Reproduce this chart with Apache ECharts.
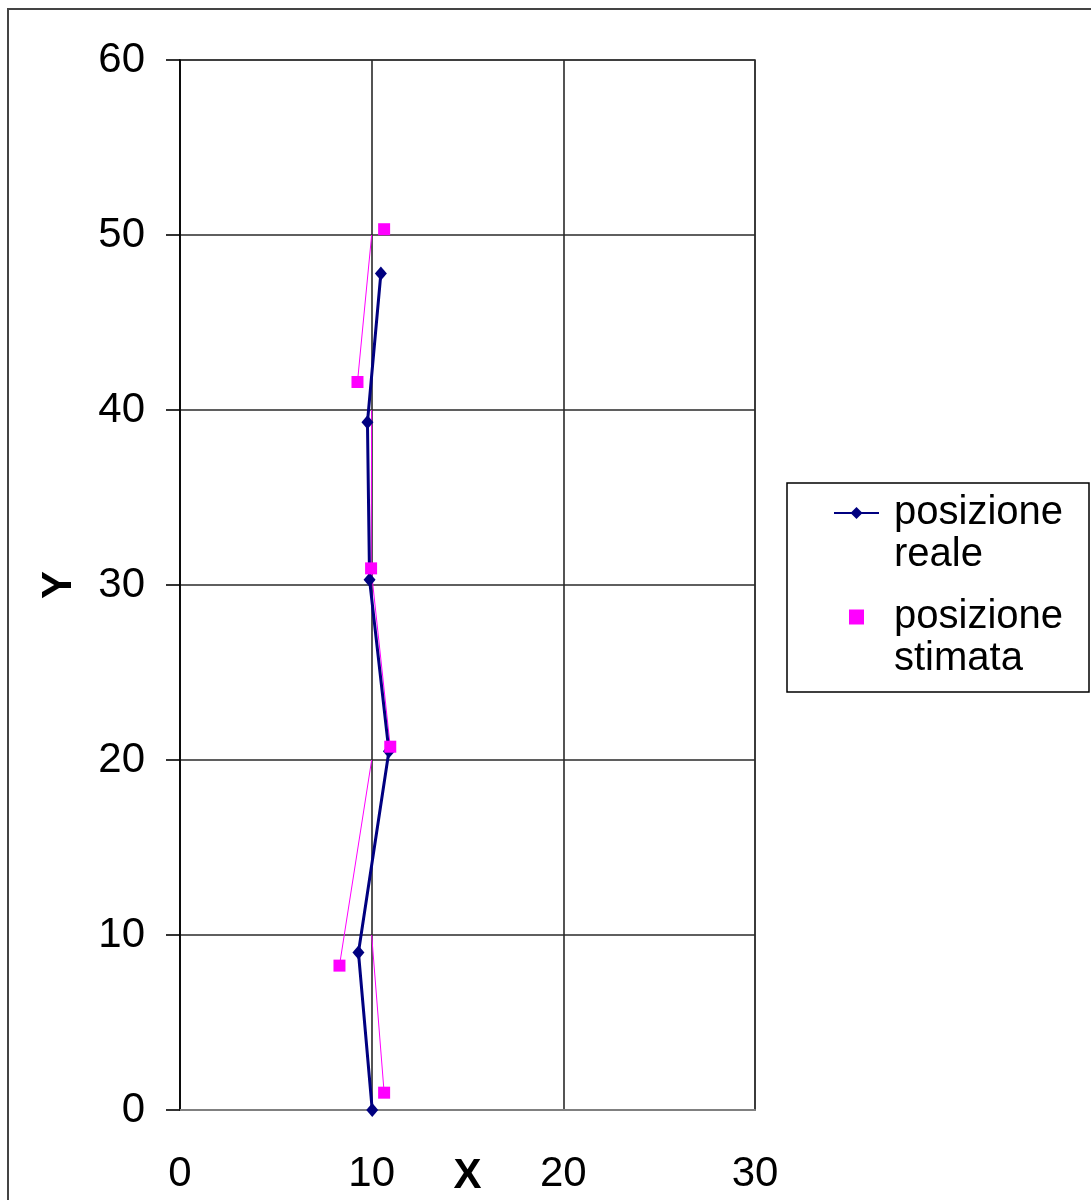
<!DOCTYPE html>
<html>
<head>
<meta charset="utf-8">
<script src="https://cdn.jsdelivr.net/npm/echarts@6/dist/echarts.min.js"></script>
<style>
html,body{margin:0;padding:0;background:#fff;}
#chart{width:1091px;height:1200px;}
</style>
</head>
<body>
<div id="chart"></div>
<script>
// ---- data ----
const realName = 'posizione\nreale';
const estName = 'posizione\nstimata';
const realX = [10.03, 9.31, 10.9, 9.89, 9.78, 10.48];
const realY = [0, 9.0, 20.5, 30.3, 39.3, 47.8];
const estX = [10.65, 8.32, 10.97, 9.97, 9.26, 10.65];
const estY = [0.99, 8.25, 20.76, 30.95, 41.6, 50.33];
// thin magenta connector segments (not in legend)
const linkSegments = [
  [[10.65, 0.99], [10, 10]],
  [[8.32, 8.25], [10, 20]],
  [[10.97, 20.76], [9.97, 30.95], [10, 40]],
  [[9.26, 41.6], [10, 50]]
];
const xTicks = {min: 0, max: 30, interval: 10};
const yTicks = {min: 0, max: 60, interval: 10};

const FONT = 'Liberation Sans, Arial, sans-serif';
const chart = echarts.init(document.getElementById('chart'), null, {renderer: 'canvas'});

const series = [];
linkSegments.forEach(function (seg, i) {
  series.push({
    type: 'line', name: 'link' + i, data: seg, symbol: 'none', silent: true,
    lineStyle: {color: '#FF00FF', width: 1}, itemStyle: {color: '#FF00FF'}, z: 1
  });
});
series.push({
  type: 'line', name: realName,
  data: realX.map(function (x, i) { return [x, realY[i]]; }),
  symbol: 'diamond', symbolSize: [12, 14],
  lineStyle: {color: '#000080', width: 3},
  itemStyle: {color: '#000080'}, z: 2
});
series.push({
  type: 'scatter', name: estName,
  data: estX.map(function (x, i) { return [x, estY[i]]; }),
  symbol: 'rect', symbolSize: 12,
  itemStyle: {color: '#FF00FF', opacity: 1}, z: 3
});

chart.setOption({
  animation: false,
  backgroundColor: '#fff',
  textStyle: {fontFamily: FONT},
  graphic: {elements: [
    {type: 'rect', z: 1, shape: {x: 787, y: 483, width: 302, height: 209},
     style: {fill: '#fff', stroke: '#000', lineWidth: 1.5}},
    {type: 'rect', z: 100, shape: {x: 8, y: 9, width: 1200, height: 1300},
     style: {fill: 'none', stroke: '#444', lineWidth: 2}}
  ]},
  grid: {left: 180, right: 336, top: 60, bottom: 90, show: true,
         outerBoundsMode: 'none', containLabel: false,
         borderColor: '#808080', borderWidth: 2, backgroundColor: '#fff'},
  legend: {
    orient: 'vertical', left: 833, top: 450, padding: 0,
    itemWidth: 45, itemHeight: 15, itemGap: -22, selectedMode: false,
    textStyle: {
      fontFamily: FONT, fontSize: 40, lineHeight: 42, color: '#000',
      rich: {
        p: {fontFamily: FONT, fontSize: 40, lineHeight: 42},
        a: {fontFamily: FONT, fontSize: 40, lineHeight: 42, color: '#000', padding: [0, 0, 0, 10]}
      }
    },
    formatter: function (name) {
      return '{p| }\n' + name.split('\n').map(function (s) { return '{a|' + s + '}'; }).join('\n');
    },
    data: [
      {name: realName},
      {name: estName, icon: 'path://M0,0L10,0L10,10L0,10Z'}
    ]
  },
  xAxis: {
    type: 'value', min: xTicks.min, max: xTicks.max, interval: xTicks.interval,
    name: 'X', nameLocation: 'middle', nameGap: 45, nameMoveOverlap: false,
    nameTextStyle: {fontFamily: FONT, fontSize: 42, fontWeight: 'bold', color: '#000'},
    axisLine: {show: true, onZero: false, lineStyle: {color: '#808080', width: 2}},
    axisTick: {show: false},
    axisLabel: {fontFamily: FONT, fontSize: 42, color: '#000', margin: 43},
    splitLine: {show: true, lineStyle: {color: '#2a2a2a', width: 1.6}}
  },
  yAxis: {
    type: 'value', min: yTicks.min, max: yTicks.max, interval: yTicks.interval,
    name: 'Y', nameLocation: 'middle', nameGap: 100, nameMoveOverlap: false,
    nameTextStyle: {fontFamily: FONT, fontSize: 42, fontWeight: 'bold', color: '#000'},
    axisLine: {show: true, onZero: false, lineStyle: {color: '#000', width: 1.6}},
    axisTick: {show: true, length: 14, lineStyle: {color: '#000', width: 1.6}},
    axisLabel: {fontFamily: FONT, fontSize: 42, color: '#000', margin: 35},
    splitLine: {show: true, lineStyle: {color: '#2a2a2a', width: 1.6}}
  },
  series: series
});
</script>
</body>
</html>
